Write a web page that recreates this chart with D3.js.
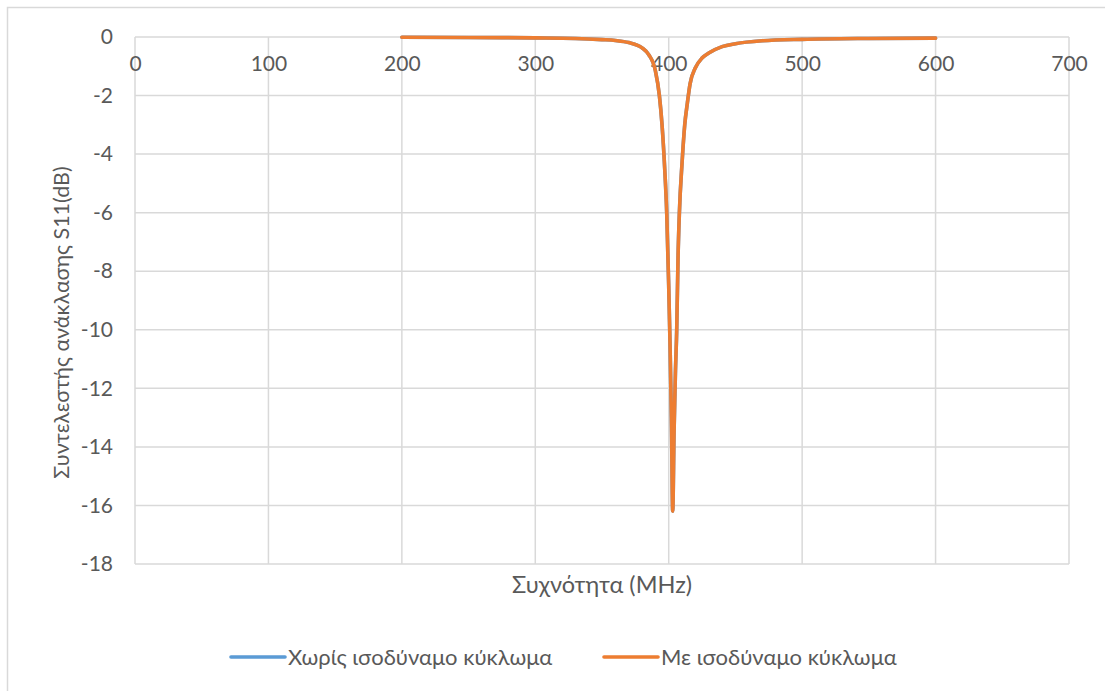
<!DOCTYPE html>
<html>
<head>
<meta charset="utf-8">
<script src="https://cdn.jsdelivr.net/npm/d3@7"></script>
<style>
  html, body { margin: 0; padding: 0; background: #fff; }
  svg { display: block; }
  text { font-family: Lato, "Open Sans", "Noto Sans", sans-serif; fill: #595959; }
</style>
</head>
<body>
<svg id="chart" width="1105" height="691"></svg>
<script>
// Frequency sweep (MHz) and reflection coefficient S11 (dB)
const freq = [200, 250, 300, 330, 350, 360, 370, 380, 385, 390, 393, 395, 397, 398.5, 400, 401, 402, 403,
              404, 405, 406, 407, 408, 410, 412, 414, 416, 420, 425, 430, 440, 450, 470, 500, 550, 600];
const s11Plain = [-0.01, -0.015, -0.03, -0.05, -0.09, -0.12, -0.19, -0.37, -0.6, -1.15, -2.0, -3.0, -4.5, -6.0, -8.5, -10.5, -13.0, -16.2,
                  -13.5, -11.5, -10.0, -7.5, -6.0, -4.3, -3.0, -2.25, -1.6, -1.05, -0.72, -0.55, -0.33, -0.23, -0.13, -0.08, -0.05, -0.04];
const s11Equiv = [-0.01, -0.015, -0.03, -0.05, -0.09, -0.12, -0.19, -0.37, -0.6, -1.15, -2.0, -3.0, -4.5, -6.0, -8.5, -10.5, -13.0, -16.2,
                  -13.5, -11.5, -10.0, -7.5, -6.0, -4.3, -3.0, -2.25, -1.6, -1.05, -0.72, -0.55, -0.33, -0.23, -0.13, -0.08, -0.05, -0.04];

const xTicks = [0, 100, 200, 300, 400, 500, 600, 700];
const yTicks = [0, -2, -4, -6, -8, -10, -12, -14, -16, -18];

const seriesNames = ["Χωρίς ισοδύναμο κύκλωμα", "Με ισοδύναμο κύκλωμα"];
const seriesColors = ["#5b9bd5", "#ed7d31"];
const xTitle = "Συχνότητα (MHz)";
const yTitle = "Συντελεστής ανάκλασης S11(dB)";

const svg = d3.select("#chart");
const plot = { left: 135, right: 1069, top: 37, bottom: 564 };

// Chart frame
svg.append("rect")
  .attr("x", 7.5).attr("y", 7.5)
  .attr("width", 1120).attr("height", 720)
  .attr("fill", "#fff").attr("stroke", "#d9d9d9").attr("stroke-width", 1.5);

const x = d3.scaleLinear().domain([0, 700]).range([plot.left, plot.right]);
const y = d3.scaleLinear().domain([-18, 0]).range([plot.bottom, plot.top]);

// Gridlines
const grid = svg.append("g").attr("stroke", "#d9d9d9").attr("stroke-width", 1.5);
grid.selectAll("line.h").data(yTicks).join("line")
  .attr("x1", plot.left).attr("x2", plot.right)
  .attr("y1", d => y(d)).attr("y2", d => y(d));
grid.selectAll("line.v").data(xTicks).join("line")
  .attr("x1", d => x(d)).attr("x2", d => x(d))
  .attr("y1", plot.top).attr("y2", plot.bottom);

// Plain hyphen-minus for negative tick labels
const fmt = d => String(d);

// Y axis labels
const yAxis = d3.axisLeft(y).tickValues(yTicks).tickSize(0).tickPadding(22).tickFormat(fmt);
const gy = svg.append("g").attr("transform", `translate(${plot.left},0)`).call(yAxis);
gy.select(".domain").remove();
gy.selectAll("text").attr("font-size", 21).style("fill", "#595959")
  .attr("font-family", "Lato, 'Open Sans', sans-serif");

// X axis crosses at y = 0 (top), labels below it
const xAxis = d3.axisBottom(x).tickValues(xTicks).tickSize(0).tickPadding(19).tickFormat(fmt);
const gx = svg.append("g").attr("transform", `translate(0,${y(0)})`).call(xAxis);
gx.select(".domain").remove();
gx.selectAll("text").attr("font-size", 21).style("fill", "#595959")
  .attr("font-family", "Lato, 'Open Sans', sans-serif");

// Series lines
const line = d3.line().x(d => x(d[0])).y(d => y(d[1])).curve(d3.curveMonotoneX);
[s11Plain, s11Equiv].forEach((vals, i) => {
  svg.append("path")
    .datum(freq.map((f, k) => [f, vals[k]]))
    .attr("fill", "none")
    .attr("stroke", seriesColors[i])
    .attr("stroke-width", 3.6)
    .attr("stroke-linejoin", "round")
    .attr("stroke-linecap", "round")
    .attr("d", line);
});

// Axis titles
svg.append("text")
  .attr("x", (plot.left + plot.right) / 2).attr("y", 593)
  .attr("text-anchor", "middle").attr("font-size", 23.5)
  .text(xTitle);
svg.append("text")
  .attr("transform", `translate(69,${(plot.top + plot.bottom) / 2 + 22}) rotate(-90)`)
  .attr("text-anchor", "middle").attr("font-size", 21.5)
  .text(yTitle);

// Legend
const legendItems = [
  { name: seriesNames[0], color: seriesColors[0], x: 231 },
  { name: seriesNames[1], color: seriesColors[1], x: 604 }
];
const lg = svg.append("g");
legendItems.forEach(it => {
  lg.append("line")
    .attr("x1", it.x).attr("x2", it.x + 54)
    .attr("y1", 657).attr("y2", 657)
    .attr("stroke", it.color).attr("stroke-width", 3.6).attr("stroke-linecap", "round");
  lg.append("text")
    .attr("x", it.x + 57).attr("y", 657).attr("dy", "0.35em")
    .attr("font-size", 22)
    .text(it.name);
});
</script>
</body>
</html>
